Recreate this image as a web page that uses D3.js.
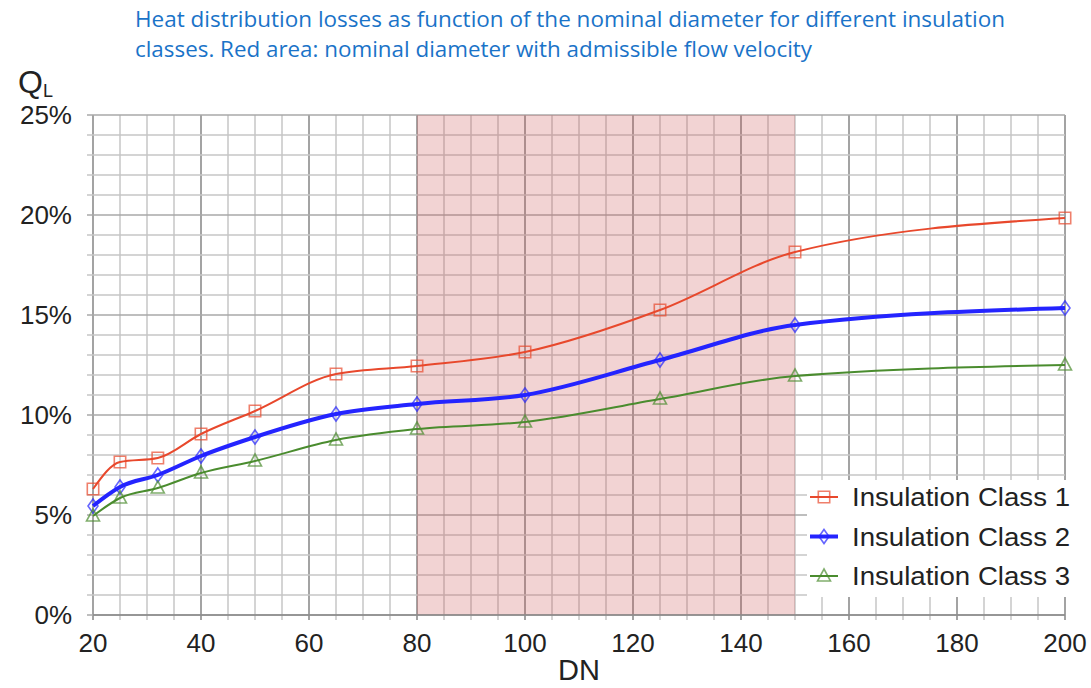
<!DOCTYPE html>
<html>
<head>
<meta charset="utf-8">
<script src="https://cdn.jsdelivr.net/npm/d3@7"></script>
<style>
  body { margin: 0; background: #fff; }
  svg text { font-family: "Liberation Sans", Arial, sans-serif; fill: #222; }
</style>
</head>
<body>
<div id="chart"></div>
<script>
// nominal diameters (DN)
const dn = [20, 25, 32, 40, 50, 65, 80, 100, 125, 150, 200];
// heat losses in % per insulation class
const class1 = [6.3, 7.65, 7.85, 9.05, 10.2, 12.05, 12.45, 13.15, 15.25, 18.15, 19.85];
const class2 = [5.45, 6.4, 7.0, 7.95, 8.9, 10.05, 10.55, 11.0, 12.75, 14.5, 15.35];
const class3 = [4.95, 5.85, 6.35, 7.1, 7.7, 8.75, 9.3, 9.65, 10.8, 11.95, 12.5];
const seriesNames = ["Insulation Class 1", "Insulation Class 2", "Insulation Class 3"];
// admissible flow velocity range
const redArea = [80, 150];
const xTicks = [20, 40, 60, 80, 100, 120, 140, 160, 180, 200];
const yTicks = [0, 5, 10, 15, 20, 25];
const titleLines = [
  "Heat distribution losses as function of the nominal diameter for different insulation",
  "classes. Red area: nominal diameter with admissible flow velocity"
];

const width = 1091, height = 688;
const svg = d3.select("#chart").append("svg")
  .attr("width", width)
  .attr("height", height);

const x = d3.scaleLinear().domain([20, 200]).range([93, 1065]);
const y = d3.scaleLinear().domain([0, 25]).range([615, 115]);

// title
svg.append("g").selectAll("text")
  .data(titleLines)
  .enter().append("text")
  .attr("x", 135)
  .attr("y", (d, i) => 27 + i * 30)
  .attr("textLength", (d, i) => i === 0 ? 870 : 677)
  .attr("lengthAdjust", "spacingAndGlyphs")
  .style("font-family", "'Open Sans', sans-serif")
  .style("font-size", "21px")
  .style("fill", "#1a73c8")
  .text(d => d);

// grid
const grid = svg.append("g");
grid.selectAll("line.vminor")
  .data(d3.range(20, 201, 5))
  .enter().append("line")
  .attr("x1", d => x(d)).attr("x2", d => x(d))
  .attr("y1", y(25)).attr("y2", y(0) + 5)
  .attr("stroke", d => d % 20 === 0 ? "#8c8c8c" : "#cacaca")
  .attr("stroke-width", 1.6);
grid.selectAll("line.hminor")
  .data(d3.range(0, 26, 1))
  .enter().append("line")
  .attr("x1", x(20) - 6).attr("x2", x(200))
  .attr("y1", d => y(d)).attr("y2", d => y(d))
  .attr("stroke", d => d % 5 === 0 ? "#a8a8a8" : "#c6c6c6")
  .attr("stroke-width", 1.6);

// red area
svg.append("rect")
  .attr("x", x(redArea[0]))
  .attr("y", y(25))
  .attr("width", x(redArea[1]) - x(redArea[0]))
  .attr("height", y(0) - y(25))
  .attr("fill", "rgba(205, 85, 85, 0.26)");

// axis baseline
svg.append("line")
  .attr("x1", x(20)).attr("x2", x(200))
  .attr("y1", y(0)).attr("y2", y(0))
  .attr("stroke", "#888").attr("stroke-width", 1.6);

// tick labels
svg.append("g").selectAll("text")
  .data(yTicks)
  .enter().append("text")
  .attr("x", 72)
  .attr("y", d => y(d) + 9)
  .attr("text-anchor", "end")
  .style("font-size", "26px")
  .text(d => d + "%");
svg.append("g").selectAll("text")
  .data(xTicks)
  .enter().append("text")
  .attr("x", d => x(d))
  .attr("y", 652)
  .attr("text-anchor", "middle")
  .style("font-size", "26px")
  .text(d => d);

// axis titles
const ql = svg.append("text").attr("x", 18).attr("y", 93).style("font-size", "32px");
ql.append("tspan").text("Q");
ql.append("tspan").attr("dy", 4).style("font-size", "18px").text("L");
svg.append("text")
  .attr("x", x(110)).attr("y", 680)
  .attr("text-anchor", "middle")
  .style("font-size", "29px")
  .text("DN");

// series
const series = [
  { name: seriesNames[0], values: class1, color: "#e8482c", width: 2, marker: "square" },
  { name: seriesNames[1], values: class2, color: "#2424ff", width: 4, marker: "diamond" },
  { name: seriesNames[2], values: class3, color: "#4a8c2e", width: 2, marker: "triangle" }
];

const line = d3.line()
  .x(d => x(d[0]))
  .y(d => y(d[1]))
  .curve(d3.curveMonotoneX);

function markerPath(type) {
  if (type === "square") return d3.symbol(d3.symbolSquare, 130)();
  if (type === "diamond") return "M0,-7L5,0L0,7L-5,0Z";
  return "M0,-7L6.5,5L-6.5,5Z";
}

series.forEach(s => {
  const pts = dn.map((d, i) => [d, s.values[i]]);
  svg.append("path")
    .datum(pts)
    .attr("fill", "none")
    .attr("stroke", s.color)
    .attr("stroke-width", s.width)
    .attr("d", line);
  svg.append("g").selectAll("path")
    .data(pts)
    .enter().append("path")
    .attr("transform", d => `translate(${x(d[0])},${y(d[1])})`)
    .attr("d", markerPath(s.marker))
    .attr("fill", "none")
    .attr("stroke", s.color)
    .attr("stroke-opacity", 0.7)
    .attr("stroke-width", 1.6);
});

// legend
const legend = svg.append("g");
legend.append("rect")
  .attr("x", 807).attr("y", 480)
  .attr("width", 280).attr("height", 117)
  .attr("fill", "#fff");
series.forEach((s, i) => {
  const ly = 497 + i * 39.5;
  legend.append("line")
    .attr("x1", 810).attr("x2", 838)
    .attr("y1", ly).attr("y2", ly)
    .attr("stroke", s.color)
    .attr("stroke-width", s.width);
  legend.append("path")
    .attr("transform", `translate(824,${ly})`)
    .attr("d", markerPath(s.marker))
    .attr("fill", "none")
    .attr("stroke", s.color)
    .attr("stroke-opacity", 0.7)
    .attr("stroke-width", 1.6);
  legend.append("text")
    .attr("x", 852).attr("y", ly + 9)
    .attr("textLength", 218)
    .attr("lengthAdjust", "spacingAndGlyphs")
    .style("font-size", "25px")
    .text(s.name);
});
</script>
</body>
</html>
